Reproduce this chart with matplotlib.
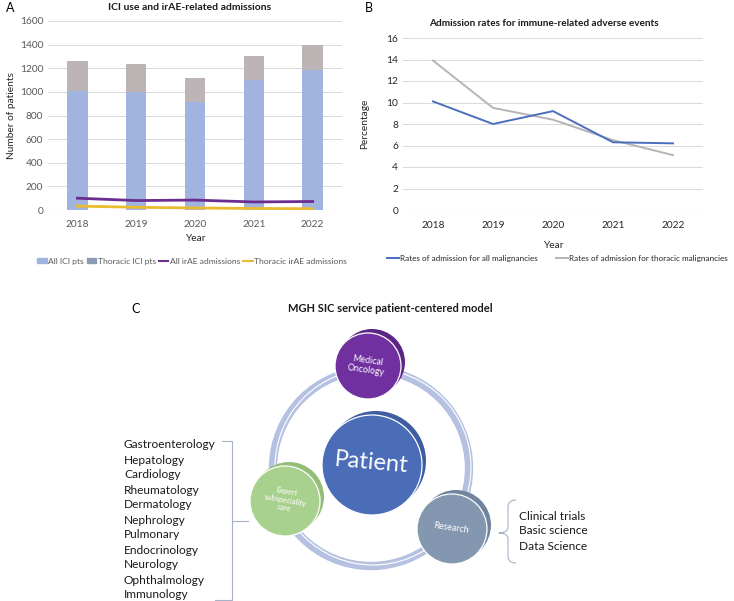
import matplotlib
matplotlib.use("Agg")
import matplotlib.pyplot as plt
from matplotlib.patches import Circle, Patch
from matplotlib.lines import Line2D
from matplotlib.path import Path
from matplotlib.patches import PathPatch
import numpy as np

plt.rcParams['font.family'] = ['Lato', 'DejaVu Sans']

# ---------------- data ----------------
years = ["2018", "2019", "2020", "2021", "2022"]
all_ici_pts = [1010, 1000, 915, 1100, 1185]
thoracic_ici_pts = [250, 240, 205, 200, 210]
all_irae_adm = [100, 80, 84, 68, 72]
thoracic_irae_adm = [33, 23, 17, 13, 11]

rate_all = [10.1, 8.0, 9.2, 6.3, 6.2]
rate_thoracic = [13.9, 9.5, 8.4, 6.5, 5.1]

specialties = ["Gastroenterology", "Hepatology", "Cardiology", "Rheumatology",
               "Dermatology", "Nephrology", "Pulmonary", "Endocrinology",
               "Neurology", "Ophthalmology", "Immunology"]
research_items = ["Clinical trials", "Basic science", "Data Science"]
center_label = "Patient"
node_labels = ["Medical\nOncology", "Expert\nsubspeciality\ncare", "Research"]

W, H = 734, 601
fig = plt.figure(figsize=(W / 100, H / 100), dpi=100)

def fx(px):
    return px / W

def fy(py):
    return 1 - py / H

tick_col = "#595959"
grid_col = "#D9D9D9"

def style_axes(ax):
    for s in ax.spines.values():
        s.set_visible(False)
    ax.yaxis.grid(True, color=grid_col, linewidth=0.7)
    ax.set_axisbelow(True)
    ax.tick_params(length=0, colors=tick_col, labelsize=7.3)
    ax.axhline(0, color=grid_col, linewidth=0.8, zorder=0.5)

# ---------------- Panel A ----------------
axA = fig.add_axes([fx(48), fy(210), fx(342) - fx(48), fy(21) - fy(210)])
x = np.arange(len(years))
axA.bar(x, all_ici_pts, width=0.35, color="#A1B3DF", zorder=2)
axA.bar(x, thoracic_ici_pts, bottom=all_ici_pts, width=0.35, color="#BCB4B5", zorder=2)
axA.plot(x, all_irae_adm, color="#6B2D8F", linewidth=2, zorder=3)
axA.plot(x, thoracic_irae_adm, color="#E9BC2F", linewidth=2, zorder=3)
axA.set_xlim(-0.5, 4.5)
axA.set_ylim(0, 1600)
axA.set_yticks(range(0, 1601, 200))
axA.set_xticks(x)
axA.set_xticklabels(years)
style_axes(axA)
axA.tick_params(axis='x', pad=7)
axA.set_xlabel("Year", fontsize=7.3, labelpad=4, color="#262626")
axA.set_ylabel("Number of patients", fontsize=7.3, labelpad=3, color="#262626")
fig.text(fx(190), fy(8), "ICI use and irAE-related admissions", ha="center", va="center",
         fontsize=7.5, fontweight="bold", color="#1a1a1a")
fig.text(fx(10), fy(8), "A", ha="center", va="center", fontsize=9)

legA_handles = [Patch(color="#A1B3DF"), Patch(color="#8C9BB6"),
                Line2D([], [], color="#6B2D8F", lw=1.5), Line2D([], [], color="#E9BC2F", lw=1.5)]
legA_labels = ["All ICI pts", "Thoracic ICI pts", "All irAE admissions", "Thoracic irAE admissions"]
fig.legend(legA_handles, legA_labels, loc="center", bbox_to_anchor=(fx(192), fy(261)),
           ncol=4, frameon=False, fontsize=6.1, handlelength=1.1, handleheight=0.5,
           handletextpad=0.15, columnspacing=0.4, labelcolor=tick_col)

# ---------------- Panel B ----------------
axB = fig.add_axes([fx(403), fy(210), fx(703) - fx(403), fy(38) - fy(210)])
axB.plot(x, rate_all, color="#4A6FBE", linewidth=1.4, zorder=3)
axB.plot(x, rate_thoracic, color="#B5B5B5", linewidth=1.4, zorder=2)
axB.set_xlim(-0.5, 4.5)
axB.set_ylim(0, 16)
axB.set_yticks(range(0, 17, 2))
axB.set_xticks(x)
axB.set_xticklabels(years)
style_axes(axB)
axB.tick_params(axis='x', pad=8, colors="#262626")
axB.tick_params(axis='y', colors="#262626")
axB.set_xlabel("Year", fontsize=7.3, labelpad=8, color="#262626")
axB.set_ylabel("Percentage", fontsize=7.3, labelpad=12, color="#262626")
fig.text(fx(544), fy(24), "Admission rates for immune-related adverse events", ha="center",
         va="center", fontsize=7.2, fontweight="bold", color="#1a1a1a")
fig.text(fx(369), fy(8), "B", ha="center", va="center", fontsize=9)
legB_handles = [Line2D([], [], color="#4A6FBE", lw=1.4), Line2D([], [], color="#B5B5B5", lw=1.4)]
legB_labels = ["Rates of admission for all malignancies", "Rates of admission for thoracic malignancies"]
fig.legend(legB_handles, legB_labels, loc="center", bbox_to_anchor=(fx(557), fy(258)),
           ncol=2, frameon=False, fontsize=5.9, handlelength=1.5,
           handletextpad=0.1, columnspacing=2.2, labelcolor="#262626", borderpad=0.1)

# ---------------- Panel C ----------------
axC = fig.add_axes([0, 0, 1, 1], zorder=-1)
axC.set_xlim(0, W)
axC.set_ylim(H, 0)
axC.axis("off")
axC.patch.set_alpha(0)

fig.text(fx(136), fy(309), "C", ha="center", va="center", fontsize=9)
fig.text(fx(390), fy(309), "MGH SIC service patient-centered model", ha="center", va="center",
         fontsize=8, fontweight="bold", color="#1a1a1a")

# ring
ring_c = (371, 468)
axC.add_patch(Circle(ring_c, 98, fill=False, edgecolor="#B6C1E1", linewidth=6, zorder=1))
axC.add_patch(Circle((ring_c[0] + 2, ring_c[1] - 1), 98, fill=False, edgecolor="white",
                     linewidth=0.8, zorder=1.1))

def disk(cx, cy, r, col, back, z):
    axC.add_patch(Circle((cx + 4, cy - 4), r, facecolor=back, edgecolor="none", zorder=z))
    axC.add_patch(Circle((cx, cy), r, facecolor=col, edgecolor="white", linewidth=0.9, zorder=z + 0.1))

# Patient
disk(372, 465, 50, "#4B6CB7", "#3F5DA3", 2)
axC.text(371, 463, center_label, ha="center", va="center", fontsize=17, color="white",
         rotation=-5, zorder=3)
# Medical Oncology
disk(368, 366, 33, "#7030A0", "#5C2585", 2)
axC.text(367, 365, node_labels[0], ha="center", va="center", fontsize=6.4, color="white",
         rotation=-8, zorder=3, linespacing=1.1)
# Expert subspeciality care
disk(285, 501, 35, "#A9D18E", "#94BE78", 2)
axC.text(285, 500, node_labels[1], ha="center", va="center", fontsize=5.4, color="white",
         rotation=-10, zorder=3, linespacing=1.2)
# Research
disk(452, 529, 35, "#8497B0", "#71849E", 2)
axC.text(451, 528, node_labels[2], ha="center", va="center", fontsize=6.4, color="white",
         rotation=-8, zorder=3)

# specialty list + bracket
for i, s in enumerate(specialties):
    axC.text(124, 445 + i * 15, s, ha="left", va="center", fontsize=8.6, color="#1a1a1a")
br_col = "#A7B2C9"
axC.plot([222, 232, 232, 215], [441, 441, 600, 600], color=br_col, linewidth=0.8)
axC.plot([232, 248], [521, 521], color=br_col, linewidth=0.8)

# research list + brace
for i, s in enumerate(research_items):
    axC.text(519, 516 + i * 15, s, ha="left", va="center", fontsize=8.6, color="#1a1a1a")
verts = [(516, 500), (508, 500), (508, 507), (508, 527), (508, 533), (499, 533),
         (508, 533), (508, 539), (508, 556), (508, 563), (516, 563)]
codes = [Path.MOVETO, Path.CURVE3, Path.CURVE3, Path.LINETO, Path.CURVE3, Path.CURVE3,
         Path.CURVE3, Path.CURVE3, Path.LINETO, Path.CURVE3, Path.CURVE3]
axC.add_patch(PathPatch(Path(verts, codes), fill=False, edgecolor=br_col, linewidth=0.8))

fig.savefig("out.png", dpi=100)
